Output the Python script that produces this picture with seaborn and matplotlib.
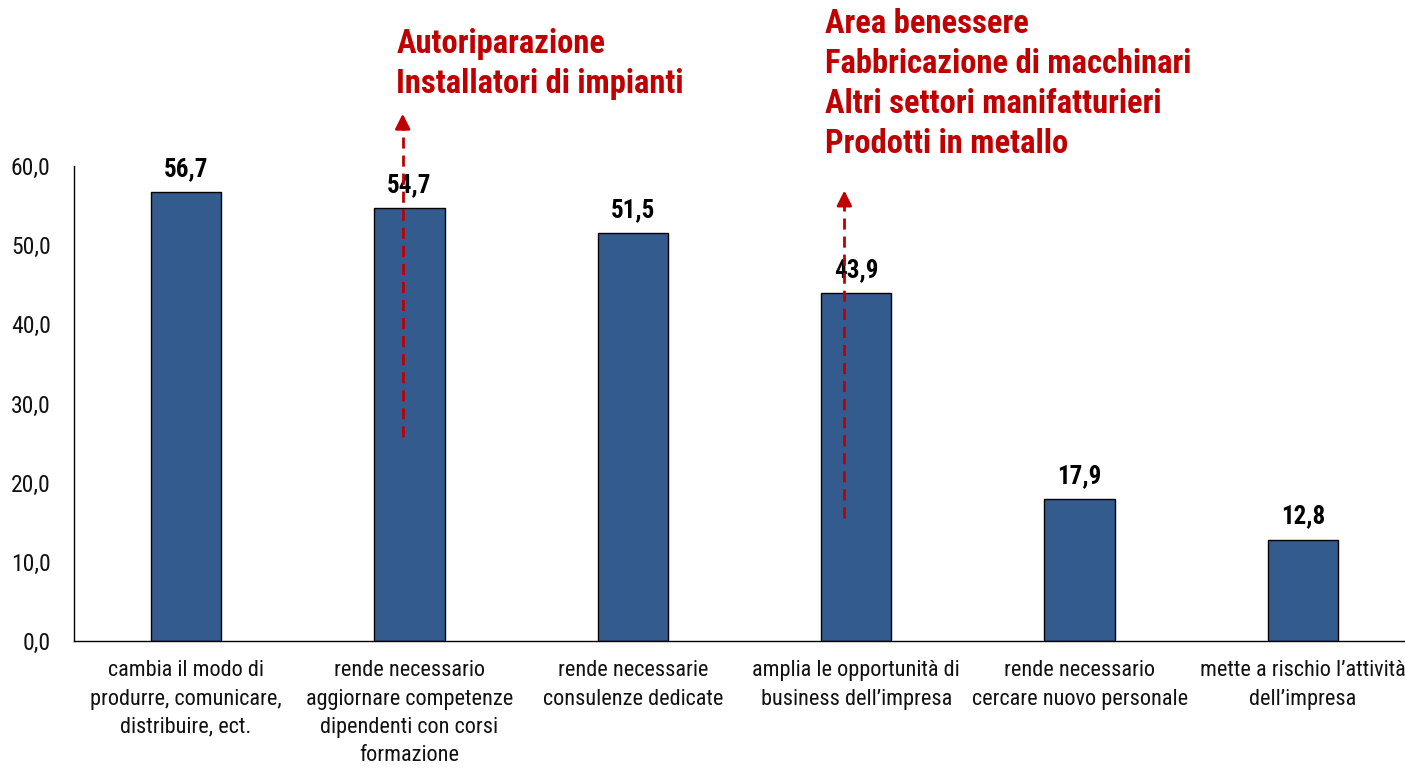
import matplotlib
matplotlib.use("Agg")
import matplotlib.pyplot as plt
import seaborn as sns
import pandas as pd
from matplotlib import font_manager

# Data
categories = [
    "cambia il modo di\nprodurre, comunicare,\ndistribuire, ect.",
    "rende necessario\naggiornare competenze\ndipendenti con corsi\nformazione",
    "rende necessarie\nconsulenze dedicate",
    "amplia le opportunità di\nbusiness dell\u2019impresa",
    "rende necessario\ncercare nuovo personale",
    "mette a rischio l\u2019attività\ndell\u2019impresa",
]
values = [56.7, 54.7, 51.5, 43.9, 17.9, 12.8]
yticks = [0, 10, 20, 30, 40, 50, 60]

callout_bars = [1, 3]
callout_texts = [
    "Autoriparazione\nInstallatori di impianti",
    "Area benessere\nFabbricazione di macchinari\nAltri settori manifatturieri\nProdotti in metallo",
]

BAR_COLOR = "#335B8E"
RED = "#C00000"
TEXT = "#111111"

sns.set_style("white")

# narrow sans to mimic the condensed Arial of the original
names = {f.name for f in font_manager.fontManager.ttflist}
narrow = next((n for n in ['Liberation Sans Narrow', 'Arial Narrow', 'Roboto Condensed',
                           'Archivo Narrow', 'Liberation Sans'] if n in names), 'DejaVu Sans')
plt.rcParams['font.family'] = [narrow, 'DejaVu Sans']

df = pd.DataFrame({'cat': categories, 'val': values})

fig = plt.figure(figsize=(14.05, 7.68), dpi=100)
ax = fig.add_axes([0.0529, 0.1654, 0.954, 0.6185])

sns.barplot(data=df, x='cat', y='val', color=BAR_COLOR, saturation=1,
            width=0.315, edgecolor='black', linewidth=1, ax=ax)

ax.set_xlim(-0.5, len(categories) - 0.5)
ax.set_ylim(0, 60)
ax.set_yticks(yticks)
ax.set_yticklabels([f"{v:.1f}".replace('.', ',') for v in yticks],
                   fontsize=17, color=TEXT)
ax.set_xticks(range(len(categories)))
ax.set_xticklabels(categories, fontsize=16, color=TEXT, linespacing=1.45)
ax.set_xticks([i - 0.5 for i in range(len(categories) + 1)], minor=True)
ax.tick_params(axis='x', which='major', length=0, pad=14)
ax.tick_params(axis='x', which='minor', length=5, width=1, color='black', direction='out')
ax.tick_params(axis='y', length=6, width=1, color='black', direction='out', pad=11)
ax.set_xlabel('')
ax.set_ylabel('')
for s in ['top', 'right']:
    ax.spines[s].set_visible(False)
for s in ['left', 'bottom']:
    ax.spines[s].set_color('black')
    ax.spines[s].set_linewidth(1)

# value labels
for i, v in enumerate(values):
    ax.annotate(f"{v:.1f}".replace('.', ','), xy=(i, v), xytext=(0, 8),
                textcoords='offset points', ha='center', va='bottom',
                fontsize=18, fontweight='bold', color='black', annotation_clip=False)

# red dashed arrows with callout text
arrow_spans = [(25.8, 66.6), (15.5, 56.9)]
arrow_dx = [-0.03, -0.053]
text_pos = [(0.942, 77.4), (2.859, 79.9)]
for b, (y0, y1), dx, (tx, ty), txt in zip(callout_bars, arrow_spans, arrow_dx,
                                          text_pos, callout_texts):
    x = b + dx
    ax.plot([x, x], [y0, y1 - 1.5], linestyle=(0, (4, 2.5)), color=RED,
            lw=2, clip_on=False, zorder=5)
    ax.annotate('', xy=(x, y1), xytext=(x, y1 - 1.6),
                arrowprops=dict(arrowstyle='-|>,head_length=0.9,head_width=0.45',
                                color=RED, lw=2, shrinkA=0, shrinkB=0),
                annotation_clip=False, zorder=6)
    ax.text(tx, ty, txt, ha='left', va='top', fontsize=23.5, fontweight='bold',
            color=RED, linespacing=1.32, clip_on=False)

fig.savefig('out.png', dpi=100, facecolor='white')
